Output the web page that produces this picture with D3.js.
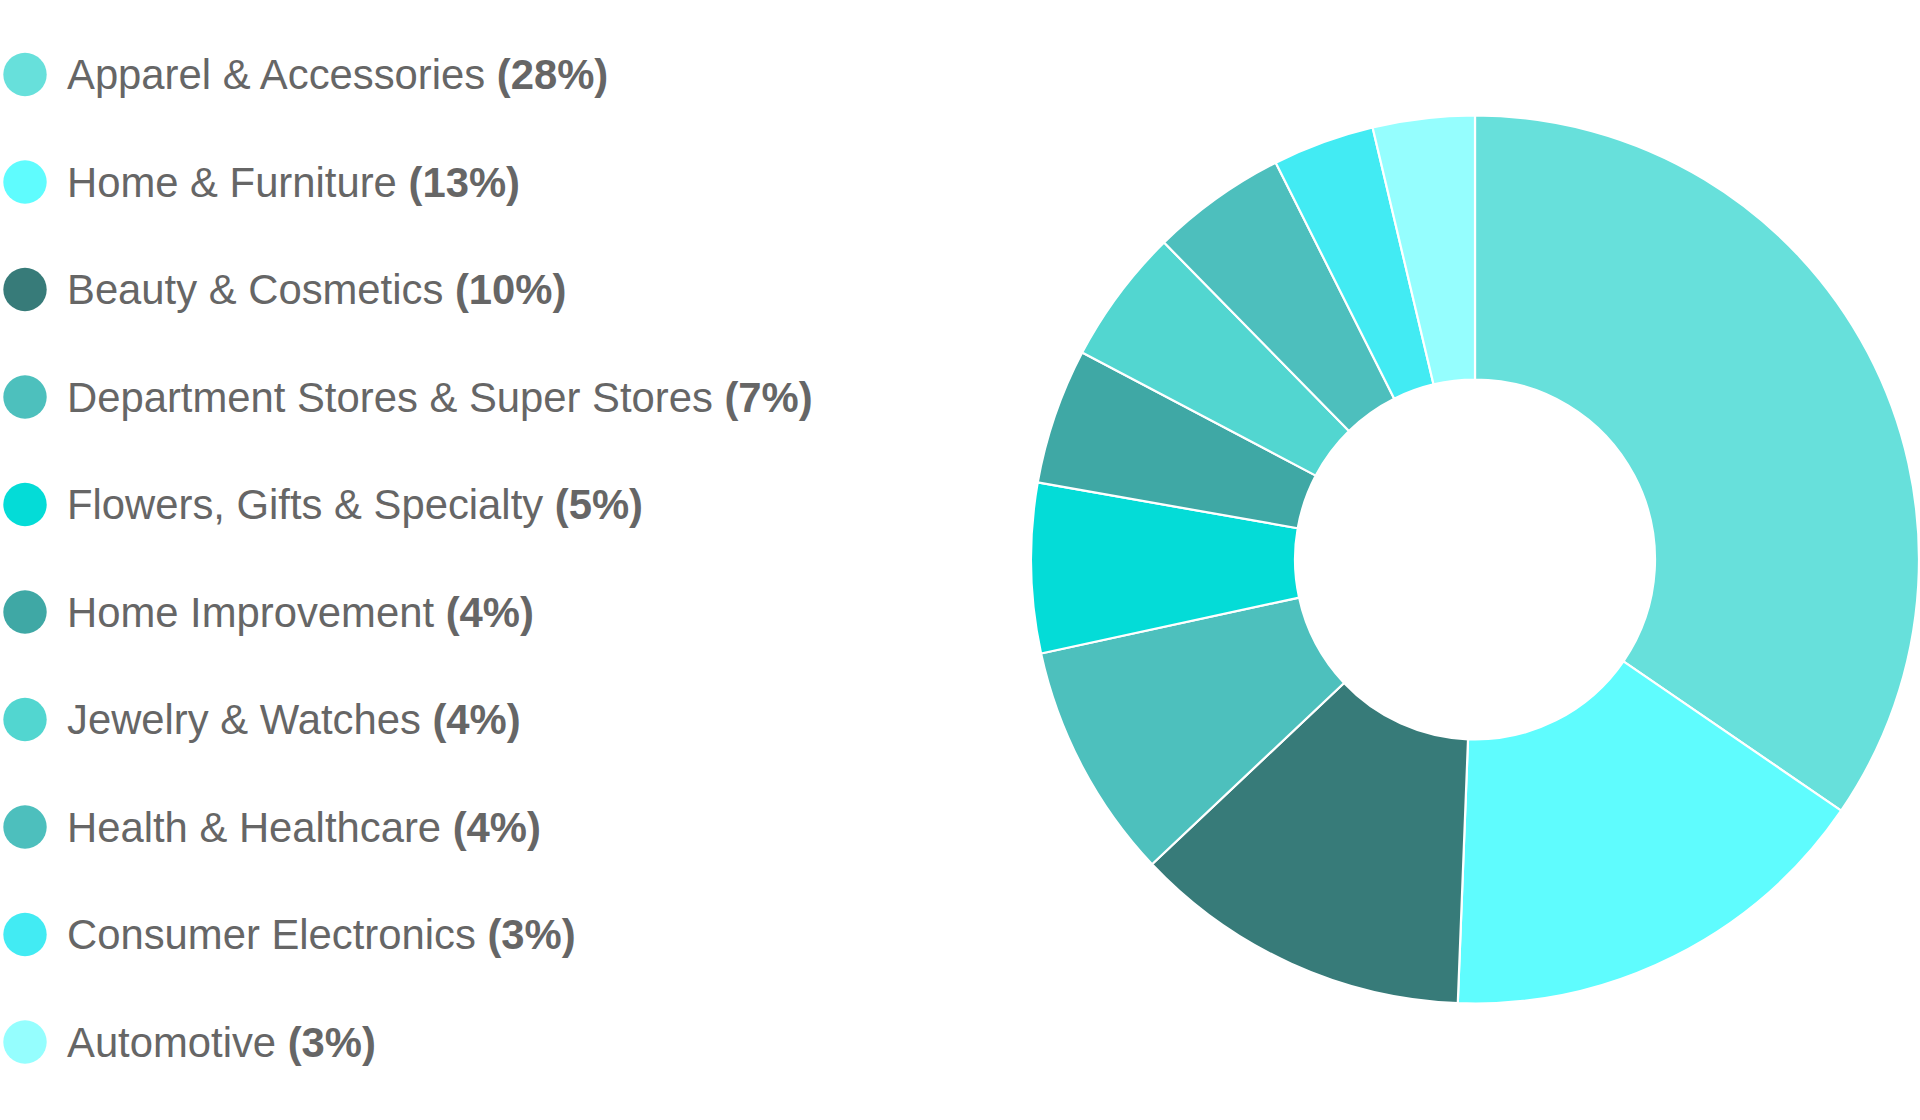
<!DOCTYPE html>
<html>
<head>
<meta charset="utf-8">
<script src="https://cdn.jsdelivr.net/npm/d3@7"></script>
<style>
  html, body { margin: 0; padding: 0; background: #fff; }
  svg { display: block; }
</style>
</head>
<body>
<script>
  const categories = [
    "Apparel & Accessories",
    "Home & Furniture",
    "Beauty & Cosmetics",
    "Department Stores & Super Stores",
    "Flowers, Gifts & Specialty",
    "Home Improvement",
    "Jewelry & Watches",
    "Health & Healthcare",
    "Consumer Electronics",
    "Automotive"
  ];
  const shares = [28, 13, 10, 7, 5, 4, 4, 4, 3, 3];
  const colors = [
    "#67e0db", "#5ffcfe", "#377b79", "#4dc0bd", "#04dcd7",
    "#3fa8a5", "#52d6d0", "#4dbfbd", "#42ebf3", "#95fefe"
  ];

  const width = 1920, height = 1120;
  const data = categories.map((name, i) => ({name, value: shares[i], color: colors[i]}));

  const svg = d3.select("body").append("svg")
      .attr("width", width)
      .attr("height", height)
      .attr("font-family", "'Liberation Sans', Arial, sans-serif");

  // donut
  const cx = 1475, cy = 559.5, outer = 444, inner = 180;
  const pie = d3.pie().sort(null).value(d => d.value);
  const arc = d3.arc().innerRadius(inner).outerRadius(outer);

  svg.append("g")
      .attr("transform", `translate(${cx},${cy})`)
    .selectAll("path")
    .data(pie(data))
    .join("path")
      .attr("d", arc)
      .attr("fill", d => d.data.color)
      .attr("stroke", "#fff")
      .attr("stroke-width", 2.2)
      .attr("stroke-linejoin", "round");

  // legend
  const y = d3.scalePoint()
      .domain(categories)
      .range([74.5, 1042]);

  const item = svg.append("g")
    .selectAll("g")
    .data(data)
    .join("g")
      .attr("transform", d => `translate(0,${y(d.name)})`);

  item.append("circle")
      .attr("cx", 25)
      .attr("r", 21.7)
      .attr("fill", d => d.color);

  const label = item.append("text")
      .attr("x", 67)
      .attr("dy", "0.35em")
      .attr("font-size", 41.8)
      .attr("fill", "#666");

  label.append("tspan").text(d => d.name + " ");
  label.append("tspan")
      .attr("font-weight", "bold")
      .text(d => `(${d.value}%)`);
</script>
</body>
</html>
